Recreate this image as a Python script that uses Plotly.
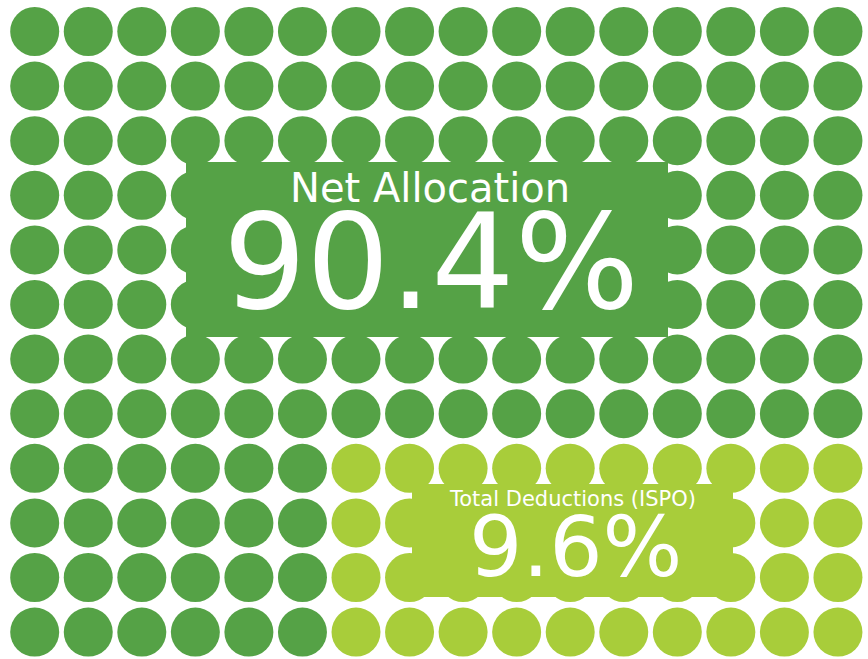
import plotly.graph_objects as go

# ---- data ----
n_cols = 16
n_rows = 12
deduction_rows = [8, 9, 10, 11]
deduction_cols = [6, 7, 8, 9, 10, 11, 12, 13, 14, 15]
labels = ["Net Allocation", "Total Deductions (ISPO)"]
values_pct = [90.4, 9.6]
colors = ["#55A246", "#A8CD3A"]

# ---- build grid ----
net_x, net_y, ded_x, ded_y = [], [], [], []
for r in range(n_rows):
    for c in range(n_cols):
        if r in deduction_rows and c in deduction_cols:
            ded_x.append(c); ded_y.append(r)
        else:
            net_x.append(c); net_y.append(r)

W, H = 868, 659
dx, dy = 53.55, 54.6
x0 = -34.7 / dx
y0 = -31.5 / dy

fig = go.Figure()
fig.add_trace(go.Scatter(x=net_x, y=net_y, mode="markers", name=labels[0],
                         marker=dict(size=49, color=colors[0], line=dict(width=0)),
                         hoverinfo="skip"))
fig.add_trace(go.Scatter(x=ded_x, y=ded_y, mode="markers", name=labels[1],
                         marker=dict(size=49, color=colors[1], line=dict(width=0)),
                         hoverinfo="skip"))

def px(xp):
    return xp / W

def py(yp):
    return 1 - yp / H

shapes = [
    dict(type="rect", xref="paper", yref="paper",
         x0=px(186), x1=px(668), y0=py(337), y1=py(162),
         fillcolor=colors[0], line=dict(width=0), layer="above"),
    dict(type="rect", xref="paper", yref="paper",
         x0=px(412), x1=px(733), y0=py(597), y1=py(484),
         fillcolor=colors[1], line=dict(width=0), layer="above"),
]

font = "DejaVu Sans"
annotations = [
    dict(text=labels[0], x=px(430), y=py(188), xref="paper", yref="paper",
         showarrow=False, font=dict(family=font, size=40, color="white"),
         xanchor="center", yanchor="middle"),
    dict(text=f"{values_pct[0]}%", x=px(431), y=py(262), xref="paper", yref="paper",
         showarrow=False, font=dict(family=font, size=131, color="white"),
         xanchor="center", yanchor="middle"),
    dict(text=labels[1], x=px(572), y=py(499), xref="paper", yref="paper",
         showarrow=False, font=dict(family=font, size=21, color="white"),
         xanchor="center", yanchor="middle"),
    dict(text=f"{values_pct[1]}%", x=px(575), y=py(547), xref="paper", yref="paper",
         showarrow=False, font=dict(family=font, size=84, color="white"),
         xanchor="center", yanchor="middle"),
]

fig.update_layout(
    width=W, height=H,
    margin=dict(l=0, r=0, t=0, b=0),
    paper_bgcolor="white", plot_bgcolor="white",
    showlegend=False,
    xaxis=dict(range=[x0, x0 + W / dx], visible=False, fixedrange=True),
    yaxis=dict(range=[y0 + H / dy, y0], visible=False, fixedrange=True),
    shapes=shapes, annotations=annotations,
)

fig.write_html(
    "out.html",
    config={"displayModeBar": False},
    post_script="document.body.style.margin='0';document.body.style.overflow='hidden';",
)
